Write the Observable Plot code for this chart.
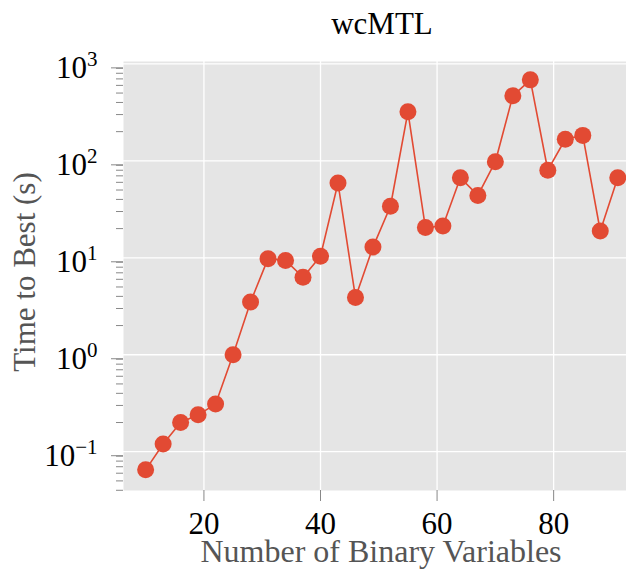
<!DOCTYPE html>
<html><head><meta charset="utf-8">
<script src="https://cdn.jsdelivr.net/npm/d3@7"></script>
<script src="https://cdn.jsdelivr.net/npm/@observablehq/plot@0.6"></script>
<style>body{margin:0;background:#fff}</style>
</head><body><div id="chart"></div>
<script>
const title = "wcMTL";
const xLabel = "Number of Binary Variables";
const yLabel = "Time to Best (s)";
const numVars = [10,13,16,19,22,25,28,31,34,37,40,43,46,49,52,55,58,61,64,67,70,73,76,79,82,85,88,91];
const timeToBest = [0.065,0.12,0.20,0.24,0.31,1.0,3.5,9.8,9.4,6.3,10.4,59,3.9,12.9,34,320,20.5,21.3,67,44,98,468,684,80,167,183,18.9,67];
const xTicks = [20,40,60,80];
const yTicks = [0.1,1,10,100,1000];
const yTickExponents = ["\u22121","0","1","2","3"];

const data = numVars.map((v,i)=>({n:v, t:timeToBest[i]}));
const yDomain = [0.0398, 1058];
const minorTicks = [];
for (const d of [0.01,0.1,1,10,100,1000]) for (let m=2;m<=9;m++){const v=d*m; if(v>=yDomain[0]&&v<=yDomain[1]) minorTicks.push(v);}

const serif = "'Liberation Serif','Times New Roman',serif";
const red = "#E24A33";
const plot = Plot.plot({
  width: 626, height: 570,
  marginTop: 61, marginBottom: 80, marginLeft: 123, marginRight: 0,
  style: {fontFamily: serif, fontSize: "31px", color: "#000", background: "#fff"},
  x: {domain: [6.2, 92.5], label: null},
  y: {type: "log", domain: yDomain, label: null},
  marks: [
    Plot.frame({fill: "#E5E5E5", stroke: null}),
    Plot.gridX(xTicks, {stroke: "#fff", strokeOpacity: 1, strokeWidth: 1.3}),
    Plot.gridY(yTicks, {stroke: "#fff", strokeOpacity: 1, strokeWidth: 1.3}),
    Plot.axisY(minorTicks, {tickSize: 7, tickFormat: () => "", stroke: "#888", label: null}),
    Plot.axisY(yTicks, {tickSize: 12, tickPadding: 14, dy: 4, stroke: "#888", fill: "#000", label: null,
      tickFormat: d => "10^" + yTickExponents[yTicks.indexOf(d)], ariaLabel: "ymajor"}),
    Plot.axisX(xTicks, {tickSize: 11, tickPadding: 10, stroke: "#888", fill: "#000", label: null}),
    Plot.line(data, {x: "n", y: "t", stroke: red, strokeWidth: 1.6}),
    Plot.dot(data, {x: "n", y: "t", r: 8.5, fill: red, stroke: null}),
    Plot.text([title], {frameAnchor: "top", lineAnchor: "middle", textAnchor: "middle", dy: -37, dx: 7, fontSize: 31, fill: "#000"}),
    Plot.text([xLabel], {frameAnchor: "bottom", lineAnchor: "middle", textAnchor: "middle", dy: 61, dx: 6, fontSize: 32, fill: "#555"}),
    Plot.text([yLabel], {frameAnchor: "left", lineAnchor: "middle", textAnchor: "middle", rotate: -90, dx: -98, dy: -4, fontSize: 31, fill: "#555"})
  ]
});
// superscript exponents
plot.querySelectorAll("text").forEach(t => {
  const s = t.textContent;
  if (s.startsWith("10^")) {
    const exp = s.slice(3);
    t.textContent = "";
    const a = document.createElementNS("http://www.w3.org/2000/svg","tspan");
    a.textContent = "10";
    const b = document.createElementNS("http://www.w3.org/2000/svg","tspan");
    b.textContent = exp;
    b.setAttribute("dy", "-11.5");
    b.setAttribute("font-size", "21");
    t.appendChild(a); t.appendChild(b);
  }
});
document.getElementById("chart").appendChild(plot);
</script>
</body></html>
